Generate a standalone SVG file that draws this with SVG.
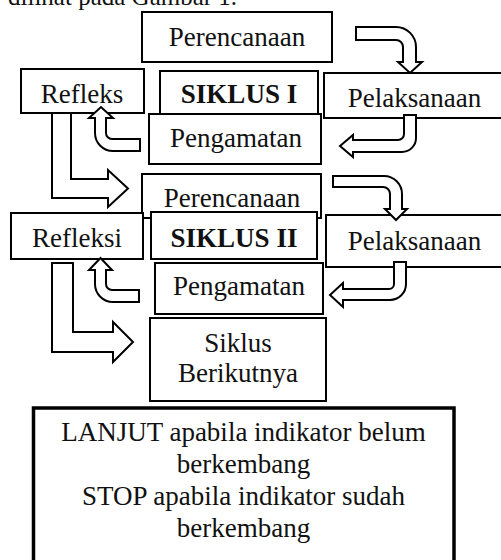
<svg xmlns="http://www.w3.org/2000/svg" width="501" height="560" viewBox="0 0 501 560">
<style>
  .box { fill: #fff; stroke: #000; stroke-width: 2; }
  .big { fill: #fff; stroke: #000; stroke-width: 3.5; }
  .t { font-family: "Liberation Serif", "Times New Roman", serif; font-size: 27px; fill: #111; text-anchor: middle; }
  .b { font-weight: bold; }
  .arr { fill: #fff; stroke: #000; stroke-width: 2; stroke-linejoin: miter; }
</style>
<rect width="501" height="560" fill="#fff"/>
<text x="8" y="5" style="font-family:'Liberation Serif','Times New Roman',serif;font-size:25px;fill:#111">dilihat pada Gambar 1.</text>

<g id="perencanaan1"><rect class="box" x="142" y="12" width="190" height="50"/><text class="t" x="237" y="46">Perencanaan</text></g>
<g id="refleks"><rect class="box" x="21" y="69" width="123" height="44"/><text class="t" x="82" y="103">Refleks</text></g>
<g id="siklus1"><rect class="box" x="160" y="71" width="158" height="44"/><text class="t b" x="239" y="103">SIKLUS I</text></g>
<g id="pengamatan1"><rect class="box" x="149" y="114" width="172" height="50"/><text class="t" x="236" y="147">Pengamatan</text></g>
<g id="pelaksanaan1"><rect class="box" x="324" y="73" width="190" height="45"/><text class="t" x="414.5" y="107">Pelaksanaan</text></g>

<g id="perencanaan2"><rect class="box" x="142" y="174" width="179" height="44"/><text class="t" x="232" y="207">Perencanaan</text></g>
<g id="refleksi"><rect class="box" x="11" y="213" width="132" height="46"/><text class="t" x="77" y="247">Refleksi</text></g>
<g id="siklus2"><rect class="box" x="151" y="212" width="166" height="47"/><text class="t b" x="234" y="247">SIKLUS II</text></g>
<g id="pelaksanaan2"><rect class="box" x="326" y="215" width="190" height="52"/><text class="t" x="414.5" y="250">Pelaksanaan</text></g>
<g id="pengamatan2"><rect class="box" x="155" y="263" width="168" height="51"/><text class="t" x="239" y="295">Pengamatan</text></g>

<g id="siklus-berikutnya"><rect class="box" x="150" y="318" width="176" height="83"/><text class="t" x="238" y="352">Siklus</text><text class="t" x="238" y="382">Berikutnya</text></g>

<g id="keterangan"><rect class="big" x="33.5" y="408" width="420.5" height="170"/>
<text class="t" x="243.5" y="441">LANJUT apabila indikator belum</text>
<text class="t" x="243.5" y="473">berkembang</text>
<text class="t" x="243.5" y="505">STOP apabila indikator sudah</text>
<text class="t" x="243.5" y="537">berkembang</text></g>

<g id="connectors">
  <path class="arr" d="M356,27 H396 A20,20 0 0 1 416,47 V62 H422 L410,73 L398,62 H403 V47 A7,7 0 0 0 396,40 H356 Z"/>
  <path class="arr" d="M404,115 H416 V138 A14,14 0 0 1 402,152 H353 V157 L340,146 L353,135 V140 H398 A6,6 0 0 0 404,134 Z"/>
  <path class="arr" d="M140,139 H112 A6,6 0 0 1 106,133 V118 H113 L101,107 L89,118 H95 V133 A18,18 0 0 0 113,151 H140 Z"/>
  <path class="arr" d="M52,113 V198 H108 V207 L128,188.5 L108,170 V179 H71 V113 Z"/>
  <path class="arr" d="M333,176 H384 A18,18 0 0 1 402,194 V209 H407 L396,220 L385,209 H390 V194 A7,7 0 0 0 383,187 H333 Z"/>
  <path class="arr" d="M394,262 H406 V284 A16,16 0 0 1 390,300 H343 V307 L330,295 L343,283 V289 H389 A5,5 0 0 0 394,284 Z"/>
  <path class="arr" d="M139,290 H112 A6,6 0 0 1 106,284 V270 H112 L100.5,258 L89,270 H95 V284 A18,18 0 0 0 113,302 H139 Z"/>
  <path class="arr" d="M52,263 H73 V332 H113 V322 L133,342 L113,362 V352 H52 Z"/>
</g>
</svg>
